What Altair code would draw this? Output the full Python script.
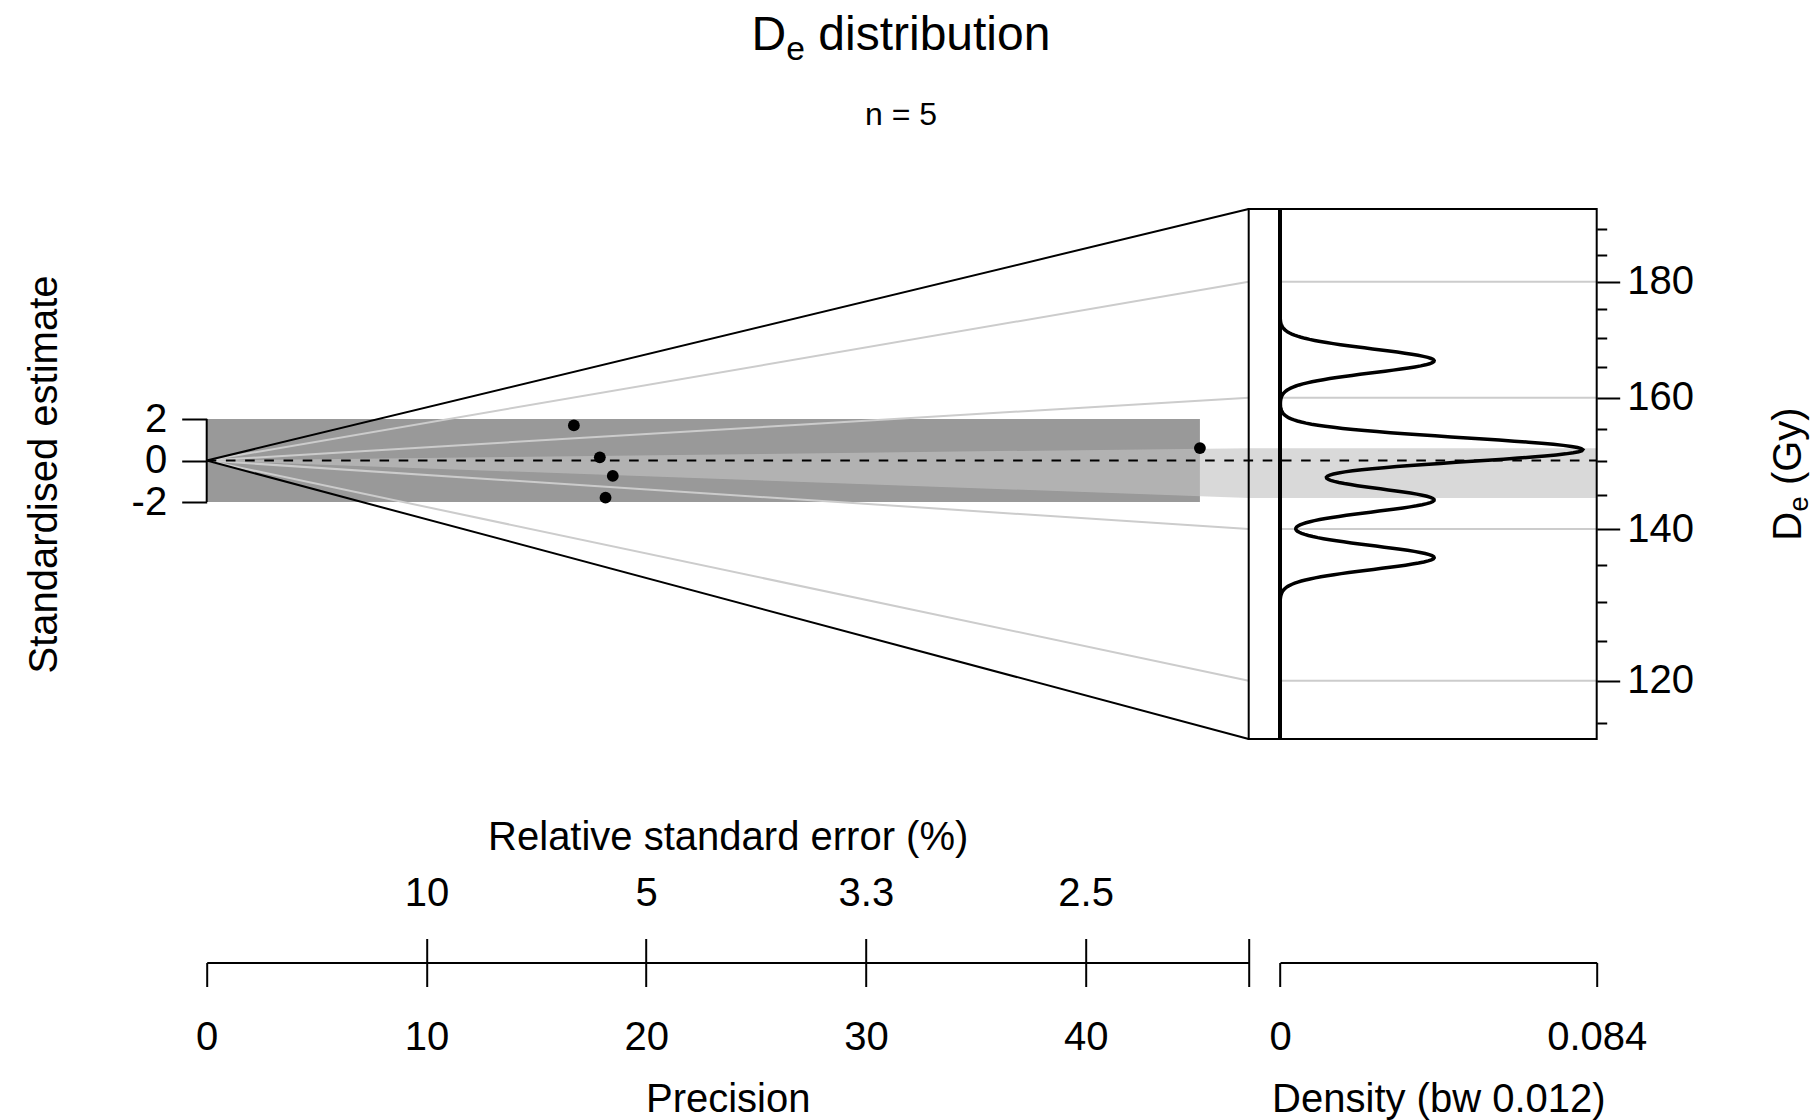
import math
import numpy as np
import pandas as pd
import altair as alt

# ------------------------------------------------------------------
# Values (Abanico plot, n = 5)
# ------------------------------------------------------------------
de_values = [166.1, 151.4, 144.2, 136.0, 152.1]          # De (Gy) of each aliquot
precision_values = [16.71, 17.89, 18.48, 18.15, 45.20]   # 1 / relative standard error
central_de = 150.1                                       # central value (dashed line), Gy
bar_de = [144.5, 152.0]                                  # light grey bar, Gy
z_band = [-2, 2]                                         # dark grey +-2 band
precision_max = 47.42                                    # right end of the radial part
z_limits = [-13.42, 12.12]                               # vertical extent (standardised units)
z_ticks = [-2, 0, 2]
de_major = [120, 140, 160, 180]
de_minor = [115, 125, 130, 135, 145, 150, 155, 165, 170, 175, 185, 190]
precision_ticks = [0, 10, 20, 30, 40]
rse_tick_precision = [10, 20, 30, 40]
rse_labels = ["10", "5", "3.3", "2.5"]
density_ticks = [0, 0.084]
density_labels = ["0", "0.084"]
kde_bandwidth = 0.012
density_display_scale = 0.00615
n_label = "n = 5"

# ------------------------------------------------------------------
# Layout / style
# ------------------------------------------------------------------
W, H = 1390, 530
PAD = {"left": 206.7, "top": 209, "right": 221.3, "bottom": 381}
LEFT_RANGE = [0, 1042]
DENS_RANGE = [1073.3, W]
BOX_LEFT = LEFT_RANGE[1]
AXIS_OFFSET = 223.5
FONT = "Liberation Sans"
FS = 40
DARK = "#999999"
BAR_COLOR = "#c2c2c2"
BAR_OPACITY = 0.625
GRID = "#cccccc"

ln_c = math.log(central_de)
de_domain = [central_de * math.exp(z / precision_max) for z in z_limits]

xs_l = alt.Scale(domain=[0, precision_max], range=LEFT_RANGE, nice=False, zero=False)
ys_l = alt.Scale(domain=z_limits, nice=False, zero=False)
xs_r = alt.Scale(domain=[density_ticks[0], density_ticks[-1]], range=DENS_RANGE, nice=False, zero=False)
ys_r = alt.Scale(type="log", domain=de_domain, nice=False)


def XL(f, axis=None):
    return alt.X(f, type="quantitative", scale=xs_l, axis=axis)


def YL(f, axis=None):
    return alt.Y(f, type="quantitative", scale=ys_l, axis=axis)


def XR(f, axis=None):
    return alt.X(f, type="quantitative", scale=xs_r, axis=axis)


def YR(f, axis=None):
    return alt.Y(f, type="quantitative", scale=ys_r, axis=axis)


# ------------------------------------------------------------------
# Axes
# ------------------------------------------------------------------
ax_z = alt.Axis(
    orient="left", values=z_ticks, domain=False, tickSize=25, tickWidth=2,
    labelExpr="datum.value < 0 ? '-' + format(-datum.value, 'd') : format(datum.value, 'd')",
    labelFontSize=FS, labelPadding=15, labelBaseline="middle", labelOverlap=False,
    title="Standardised estimate", titleFontSize=FS, titleX=-150, titleY=H / 2,
    titleAngle=270, titleAlign="center", titleBaseline="alphabetic",
)
ax_prec = alt.Axis(
    orient="bottom", offset=AXIS_OFFSET, values=precision_ticks + [precision_max],
    labelExpr=f"indexof({precision_ticks}, datum.value) >= 0 ? format(datum.value, 'd') : ''",
    tickSize=24, tickWidth=2, domainWidth=2, labelFontSize=FS, labelBaseline="alphabetic",
    labelPadding=63, labelFlush=False, labelOverlap=False,
    title="Precision", titleFontSize=FS, titleX=sum(LEFT_RANGE) / 2, titleY=148.5,
    titleAlign="center", titleBaseline="alphabetic",
)
rse_expr = " : ".join(
    f"datum.value == {p} ? '{lab}'" for p, lab in zip(rse_tick_precision, rse_labels)
) + " : ''"
ax_rse = alt.Axis(
    orient="top", offset=-(H + AXIS_OFFSET), values=rse_tick_precision + [precision_max],
    labelExpr=rse_expr, domain=False, tickSize=24, tickWidth=2, labelFontSize=FS,
    labelBaseline="alphabetic", labelPadding=32.6, labelFlush=False, labelOverlap=False,
    title="Relative standard error (%)", titleFontSize=FS, titleX=sum(LEFT_RANGE) / 2,
    titleY=-113.5, titleAlign="center", titleBaseline="alphabetic",
)
ax_dens = alt.Axis(
    orient="bottom", offset=AXIS_OFFSET, values=density_ticks,
    labelExpr=f"datum.value == {density_ticks[0]} ? '{density_labels[0]}' : '{density_labels[1]}'",
    tickSize=24, tickWidth=2, domainWidth=2, labelFontSize=FS, labelBaseline="alphabetic",
    labelPadding=63, labelFlush=False, labelOverlap=False,
    title=f"Density (bw {kde_bandwidth})", titleFontSize=FS, titleX=sum(DENS_RANGE) / 2,
    titleY=148.5, titleAlign="center", titleBaseline="alphabetic",
)
ax_de_major = alt.Axis(
    orient="right", values=de_major, domain=False, tickSize=23, tickWidth=2,
    labelExpr="format(datum.value, 'd')", labelFontSize=FS, labelPadding=7,
    labelAlign="left", labelBaseline="middle", labelOverlap=False, title=None,
)
ax_de_minor = alt.Axis(
    orient="right", values=de_minor, domain=False, tickSize=10, tickWidth=2,
    labels=False, title=None,
)

# ------------------------------------------------------------------
# Left (radial) part
# ------------------------------------------------------------------
pts = pd.DataFrame({"De": de_values, "P": precision_values})
pts["z"] = np.log(pts["De"] / central_de) * pts["P"]

rect_df = pd.DataFrame({"x0": [0], "x1": [max(precision_values)],
                        "y0": [z_band[0]], "y1": [z_band[1]]})
dark_rect = alt.Chart(rect_df).mark_rect(color=DARK).encode(
    x=XL("x0"), x2="x1", y=YL("y0"), y2="y1")

wedge_df = pd.DataFrame({
    "p": [0, precision_max],
    "top": [0, math.log(bar_de[1] / central_de) * precision_max],
    "bot": [0, math.log(bar_de[0] / central_de) * precision_max],
})
wedge = alt.Chart(wedge_df).mark_area(color=BAR_COLOR, opacity=BAR_OPACITY).encode(
    x=XL("p"), y=YL("top"), y2="bot")
bar_right = alt.Chart(wedge_df.iloc[[1]]).mark_rect(color=BAR_COLOR, opacity=BAR_OPACITY).encode(
    x=XL("p"), x2=alt.value(W), y=YL("top"), y2="bot")

radial_df = pd.DataFrame({
    "x0": 0.0, "y0": 0.0, "x1": precision_max,
    "y1": [math.log(g / central_de) * precision_max for g in de_major],
})
radial = alt.Chart(radial_df).mark_rule(color=GRID, strokeWidth=2).encode(
    x=XL("x0"), y=YL("y0"), x2="x1", y2="y1")

fan_df = pd.DataFrame({"x0": 0.0, "y0": 0.0, "x1": precision_max, "y1": z_limits})
fan = alt.Chart(fan_df).mark_rule(color="black", strokeWidth=2).encode(
    x=XL("x0"), y=YL("y0"), x2="x1", y2="y1")

dash_df = pd.DataFrame({"x0": [0.0], "y0": [0.0]})
dashed = alt.Chart(dash_df).mark_rule(color="black", strokeWidth=2, strokeDash=[9.6, 9.6]).encode(
    x=XL("x0"), x2=alt.value(W), y=YL("y0"))

spine_df = pd.DataFrame({"x0": [0.0], "y0": [z_ticks[0]], "y1": [z_ticks[-1]]})
spine = alt.Chart(spine_df).mark_rule(color="black", strokeWidth=2).encode(
    x=XL("x0"), y=YL("y0"), y2="y1")

z_axis_df = pd.DataFrame({"v": z_ticks})
z_holder = alt.Chart(z_axis_df).mark_point(opacity=0).encode(y=YL("v", ax_z))

points = alt.Chart(pts).mark_circle(color="black", size=140, opacity=1).encode(
    x=XL("P", ax_prec), y=YL("z"))

rse_df = pd.DataFrame({"p": rse_tick_precision})
rse_holder = alt.Chart(rse_df).mark_point(opacity=0).encode(x=XL("p", ax_rse))

left = alt.layer(dark_rect, wedge, bar_right, radial, fan, dashed, spine, z_holder, points,
                 rse_holder).resolve_axis(x="independent", y="independent")

# ------------------------------------------------------------------
# Right (density) part
# ------------------------------------------------------------------
grid_df = pd.DataFrame({"g": de_major, "d0": density_ticks[0], "d1": density_ticks[-1]})
grid = alt.Chart(grid_df).mark_rule(color=GRID, strokeWidth=2).encode(
    x=XR("d0"), x2="d1", y=YR("g", ax_de_major))

minor_df = pd.DataFrame({"v": de_minor})
minor = alt.Chart(minor_df).mark_point(opacity=0).encode(y=YR("v", ax_de_minor))

one = pd.DataFrame({"d0": [0.0]})
frame = alt.Chart(one).mark_rect(fillOpacity=0, stroke="black", strokeWidth=2).encode(
    x=alt.value(BOX_LEFT), x2=alt.value(W), y=alt.value(0), y2=alt.value(H))
zero_line = alt.Chart(one).mark_rule(color="black", strokeWidth=4).encode(x=XR("d0"))

dens = (
    alt.Chart(pd.DataFrame({"De": de_values}))
    .transform_calculate(logDe="log(datum.De)")
    .transform_density("logDe", bandwidth=kde_bandwidth,
                       extent=[math.log(de_domain[0]), math.log(de_domain[1])],
                       steps=500, as_=["logv", "dens"])
    .transform_calculate(De_v="exp(datum.logv)", d=f"datum.dens * {density_display_scale}")
    .mark_line(color="black", strokeWidth=3.5)
    .encode(x=XR("d:Q", ax_dens), y=YR("De_v:Q"), order="logv:Q")
)

right = alt.layer(grid, minor, frame, zero_line, dens).resolve_axis(
    x="independent", y="independent")

# ------------------------------------------------------------------
# Text (title, subtitle, right axis title with subscript)
# ------------------------------------------------------------------
def txt(s, x, y, size, angle=0, align="left"):
    return alt.Chart(pd.DataFrame({"t": [0]})).mark_text(
        text=s, font=FONT, fontSize=size, color="black", align=align,
        baseline="alphabetic", angle=angle,
    ).encode(x=alt.value(x), y=alt.value(y))


TS = 48
SUB = 0.7
cx = 901 - PAD["left"]
adv_D, adv_e, adv_sp = 0.722 * TS, 0.556 * TS * SUB, 0.278 * TS
total = adv_D + adv_e + adv_sp + 4.835 * TS
x0 = cx - total / 2
ty = 50 - PAD["top"]
title_parts = [
    txt("D", x0, ty, TS),
    txt("e", x0 + adv_D, ty + 10, TS * SUB),
    txt("distribution", x0 + adv_D + adv_e + adv_sp, ty, TS),
    txt(n_label, cx, 124.5 - PAD["top"], 32, align="center"),
]

bx = 1801 - PAD["left"]
y_start = H / 2 + (0.722 * FS + 0.556 * FS * SUB + 0.278 * FS + 1.944 * FS) / 2
de_title = [
    txt("D", bx, y_start, FS, angle=270),
    txt("e", bx + 7, y_start - 0.722 * FS, FS * SUB, angle=270),
    txt("(Gy)", bx, y_start - 0.722 * FS - 0.556 * FS * SUB - 0.278 * FS, FS, angle=270),
]

chart = (
    alt.layer(left, right, *title_parts, *de_title)
    .resolve_scale(x="independent", y="independent")
    .properties(width=W, height=H, autosize=alt.AutoSizeParams(type="none"),
                padding=PAD, background="white")
    .configure_view(stroke=None)
    .configure_axis(grid=False, labelFont=FONT, titleFont=FONT, labelColor="black",
                    titleColor="black", tickColor="black", domainColor="black",
                    titleFontWeight="normal")
)

chart.save("out.html", embed_options={"renderer": "svg", "actions": False})
